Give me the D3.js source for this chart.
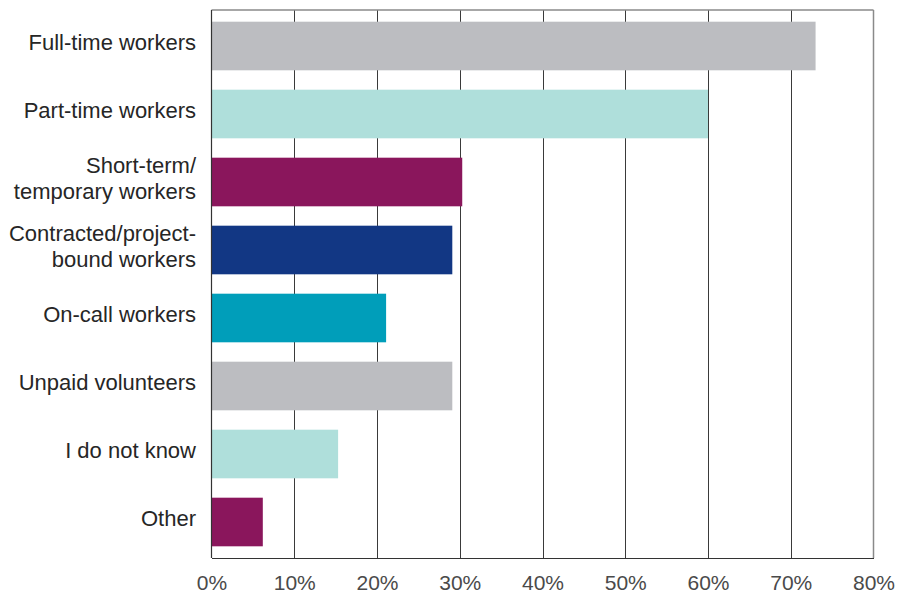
<!DOCTYPE html>
<html><head><meta charset="utf-8">
<script src="https://cdn.jsdelivr.net/npm/d3@7"></script>
<style>
html,body{margin:0;padding:0;background:#fff;}
svg{display:block;font-family:"Liberation Sans",Arial,sans-serif;}
</style></head>
<body>
<svg id="chart" width="901" height="596"></svg>
<script>
const categories = [
  ["Full-time workers"],
  ["Part-time workers"],
  ["Short-term/", "temporary workers"],
  ["Contracted/project-", "bound workers"],
  ["On-call workers"],
  ["Unpaid volunteers"],
  ["I do not know"],
  ["Other"]
];
const values = [73.0, 60.0, 30.3, 29.1, 21.1, 29.1, 15.3, 6.2];
const colors = ["#bcbdc1", "#afdfdb", "#8a165c", "#123784", "#009eba", "#bcbdc1", "#afdfdb", "#8a165c"];
const tickValues = [0, 10, 20, 30, 40, 50, 60, 70, 80];

(function () {
const svg = d3.select("#chart");
const pLeft = 211.5, pRight = 873.5, pTop = 10, pBottom = 558;

const x = d3.scaleLinear().domain([0, 80]).range([pLeft, pRight]);
const y = d3.scaleBand().domain(d3.range(categories.length)).range([12, 556]).paddingInner(0.285).paddingOuter(0.1425);

// gridlines
svg.append("g").selectAll("line").data(tickValues.slice(1, -1)).join("line")
  .attr("x1", d => Math.round(x(d)) + 0.5).attr("x2", d => Math.round(x(d)) + 0.5)
  .attr("y1", pTop).attr("y2", pBottom)
  .attr("stroke", "#3a3a3a").attr("stroke-width", 1);

// bars
svg.append("g").selectAll("rect").data(values).join("rect")
  .attr("x", x(0))
  .attr("y", (d, i) => y(i))
  .attr("width", d => x(d) - x(0))
  .attr("height", y.bandwidth())
  .attr("fill", (d, i) => colors[i]);

// frame
svg.append("line").attr("x1", pLeft).attr("x2", pRight).attr("y1", pTop).attr("y2", pTop).attr("stroke", "#8a8a8a").attr("stroke-width", 1.5);
svg.append("line").attr("x1", pRight).attr("x2", pRight).attr("y1", pTop).attr("y2", pBottom).attr("stroke", "#8a8a8a").attr("stroke-width", 1.5);
svg.append("line").attr("x1", pLeft).attr("x2", pLeft).attr("y1", pTop).attr("y2", pBottom).attr("stroke", "#333").attr("stroke-width", 1.2);

// x axis
const xAxis = d3.axisBottom(x).tickValues(tickValues).tickFormat(d => d + "%").tickSize(0).tickPadding(0);
const gx = svg.append("g").attr("transform", `translate(0,${pBottom})`).call(xAxis);
gx.select(".domain").attr("stroke", "#333").attr("stroke-width", 1.2);
gx.selectAll("text").attr("font-size", 21).attr("fill", "#4a4a4a")
  .attr("font-family", "'Liberation Sans', Arial, sans-serif").attr("dy", null).attr("y", 32);

// category labels
const lab = svg.append("g").selectAll("text").data(categories).join("text")
  .attr("text-anchor", "end")
  .attr("font-size", 22)
  .attr("fill", "#262626");
lab.each(function (lines, i) {
  const cy = y(i) + y.bandwidth() / 2 - 4;
  const lh = 26;
  const start = cy - (lines.length - 1) * lh / 2;
  d3.select(this).selectAll("tspan").data(lines).join("tspan")
    .attr("x", 196)
    .attr("y", (d, j) => start + j * lh)
    .attr("dy", "0.35em")
    .text(d => d);
});
})();
</script>
</body></html>
